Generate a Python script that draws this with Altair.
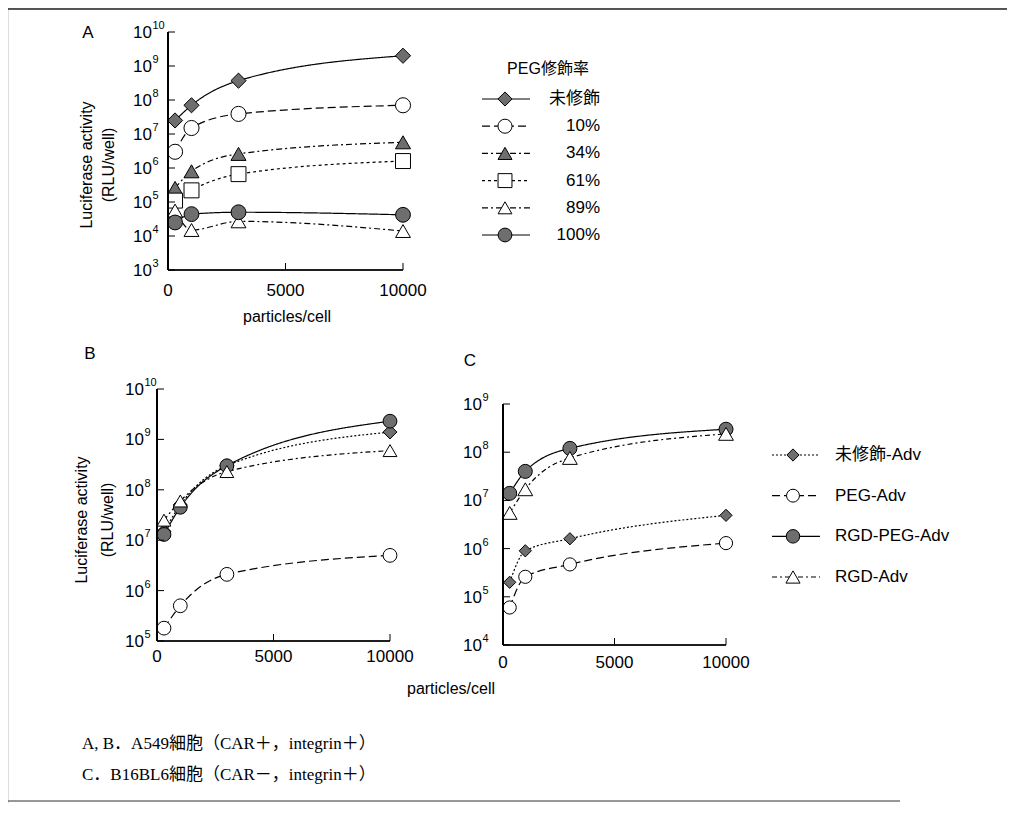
import altair as alt
import pandas as pd

# ---------------- data ----------------
X = [300, 1000, 3000, 10000]
XTICKS = [0, 5000, 10000]

A_SERIES = ["未修飾", "10%", "34%", "61%", "89%", "100%"]
A_UNMOD = [2.5e7, 7.0e7, 3.7e8, 2.0e9]
A_P10 = [3.0e6, 1.5e7, 3.9e7, 7.0e7]
A_P34 = [2.6e5, 8.0e5, 2.6e6, 5.7e6]
A_P61 = [1.1e5, 2.2e5, 6.6e5, 1.6e6]
A_P89 = [5.6e4, 1.5e4, 2.7e4, 1.4e4]
A_P100 = [2.5e4, 4.4e4, 5.0e4, 4.2e4]
A_YTICKS = [1e3, 1e4, 1e5, 1e6, 1e7, 1e8, 1e9, 1e10]

BC_SERIES = ["未修飾-Adv", "PEG-Adv", "RGD-PEG-Adv", "RGD-Adv"]
B_UNMOD = [1.5e7, 5.0e7, 3.0e8, 1.4e9]
B_PEG = [1.8e5, 5.0e5, 2.1e6, 5.0e6]
B_RGDPEG = [1.3e7, 4.5e7, 3.0e8, 2.3e9]
B_RGD = [2.5e7, 6.0e7, 2.3e8, 6.0e8]
B_YTICKS = [1e5, 1e6, 1e7, 1e8, 1e9, 1e10]

C_UNMOD = [2.0e5, 9.0e5, 1.6e6, 4.9e6]
C_PEG = [6.0e4, 2.6e5, 4.7e5, 1.3e6]
C_RGDPEG = [1.4e7, 4.0e7, 1.2e8, 3.0e8]
C_RGD = [5.5e6, 1.7e7, 7.6e7, 2.4e8]
C_YTICKS = [1e4, 1e5, 1e6, 1e7, 1e8, 1e9]

CAPTION_1 = "A, B．A549細胞（CAR＋，integrin＋）"
CAPTION_2 = "C．B16BL6細胞（CAR－，integrin＋）"


def long_df(series, arrays):
    rows = []
    for s, vals in zip(series, arrays):
        for x, v in zip(X, vals):
            rows.append({"s": s, "x": x, "v": v})
    return pd.DataFrame(rows)


dfA = long_df(A_SERIES, [A_UNMOD, A_P10, A_P34, A_P61, A_P89, A_P100])
dfB = long_df(BC_SERIES, [B_UNMOD, B_PEG, B_RGDPEG, B_RGD])
dfC = long_df(BC_SERIES, [C_UNMOD, C_PEG, C_RGDPEG, C_RGD])

# ---------------- styles ----------------
W, H = 999, 795
SANS = "Liberation Sans, Arial, DejaVu Sans, Noto Sans CJK JP"
SERIF = "Liberation Serif, Times New Roman, Noto Sans CJK JP"
GRAY = "#6e6e6e"

A_SHAPES = ["diamond", "circle", "triangle-up", "square", "triangle-up", "circle"]
A_FILLS = [GRAY, "white", GRAY, "white", "white", GRAY]
A_DASH = [[1, 0], [8, 4], [6, 3, 2, 3], [3, 3], [6, 3, 2, 3], [1, 0]]
A_SIZES = [230, 220, 180, 170, 190, 220]

BC_SHAPES = ["diamond", "circle", "circle", "triangle-up"]
BC_FILLS = [GRAY, "white", GRAY, "white"]
BC_DASH = [[2, 2], [8, 4], [1, 0], [5, 3, 2, 3]]
B_SIZES = [190, 190, 200, 180]
C_SIZES = [150, 220, 220, 190]
LEG_C_SIZES = [150, 200, 200, 180]

EXP = "format(round(log(datum.v)/LN10), 'd')"


def panel(df, series, shapes, fills, dashes, sizes, xr, yr, ydom, yticks, ygap, xgap):
    xs = alt.Scale(domain=[0, 10000], range=xr, nice=False, zero=False)
    ys = alt.Scale(type="log", domain=ydom, range=yr, nice=False)
    dash_scale = alt.Scale(domain=series, range=dashes)
    lines = alt.Chart(df).mark_line(color="black", strokeWidth=1.2, interpolate="monotone").encode(
        x=alt.X("x:Q", scale=xs, axis=None),
        y=alt.Y("v:Q", scale=ys, axis=None),
        strokeDash=alt.StrokeDash("s:N", scale=dash_scale, legend=None),
        detail="s:N",
    )
    pts = alt.Chart(df).mark_point(filled=True, stroke="black", strokeWidth=1, opacity=1).encode(
        x=alt.X("x:Q", scale=xs, axis=None),
        y=alt.Y("v:Q", scale=ys, axis=None),
        shape=alt.Shape("s:N", scale=alt.Scale(domain=series, range=shapes), legend=None),
        fill=alt.Fill("s:N", scale=alt.Scale(domain=series, range=fills), legend=None),
        size=alt.Size("s:N", scale=alt.Scale(domain=series, range=sizes), legend=None),
    )
    ydf = pd.DataFrame({"v": yticks})
    xdf = pd.DataFrame({"x": XTICKS})
    # axis lines
    yline = alt.Chart(ydf).mark_rule(color="black", strokeWidth=1.2).encode(
        x=alt.value(xr[0]), y=alt.Y(datum=ydom[0], scale=ys, axis=None), y2=alt.Y2(datum=ydom[1]))
    xline = alt.Chart(xdf).mark_rule(color="black", strokeWidth=1.2).encode(
        y=alt.value(yr[0]), x=alt.X(datum=0, scale=xs, axis=None), x2=alt.X2(datum=10000))
    # inward ticks
    ytk = alt.Chart(ydf).mark_rule(color="black", strokeWidth=1).encode(
        y=alt.Y("v:Q", scale=ys, axis=None),
        x=alt.value(xr[0]), x2=alt.value(xr[0] + 7),
    )
    xtk = alt.Chart(pd.DataFrame({"x": XTICKS[1:]})).mark_rule(color="black", strokeWidth=1).encode(
        x=alt.X("x:Q", scale=xs, axis=None),
        y=alt.value(yr[0]), y2=alt.value(yr[0] - 7),
    )
    # tick labels: base "10" plus a raised exponent
    ybase = alt.Chart(ydf).transform_calculate(lab="'10'").mark_text(
        align="right", baseline="middle", fontSize=17, font=SANS, color="black", dy=1
    ).encode(y=alt.Y("v:Q", scale=ys, axis=None), x=alt.value(xr[0] - ygap), text="lab:N")
    yexp = alt.Chart(ydf).transform_calculate(lab=EXP).mark_text(
        align="left", baseline="middle", fontSize=11, font=SANS, color="black", dy=-6, dx=0.5
    ).encode(y=alt.Y("v:Q", scale=ys, axis=None), x=alt.value(xr[0] - ygap), text="lab:N")
    xlab = alt.Chart(xdf).mark_text(
        align="center", baseline="middle", fontSize=17, font=SANS, color="black"
    ).encode(x=alt.X("x:Q", scale=xs, axis=None), y=alt.value(yr[0] + xgap),
             text=alt.Text("x:Q", format="d"))
    return alt.layer(lines, pts, yline, xline, ytk, xtk, ybase, yexp, xlab)


pA = panel(dfA, A_SERIES, A_SHAPES, A_FILLS, A_DASH, A_SIZES,
           [160, 395], [262, 24], [1e3, 1e10], A_YTICKS, 16, 21)
pB = panel(dfB, BC_SERIES, BC_SHAPES, BC_FILLS, BC_DASH, B_SIZES,
           [149, 382], [633, 381], [1e5, 1e10], B_YTICKS, 13, 16)
pC = panel(dfC, BC_SERIES, BC_SHAPES, BC_FILLS, BC_DASH, C_SIZES,
           [495, 718], [637, 396], [1e4, 1e9], C_YTICKS, 21, 18)


def legend(series, labels, shapes, fills, dashes, sizes, yrange, x0, x1, xs, xt, align):
    d = pd.DataFrame({"s": series, "lab": labels})
    ysc = alt.Scale(type="point", domain=series, range=yrange, padding=0)
    y = alt.Y("s:N", scale=ysc, axis=None)
    ln = alt.Chart(d).mark_rule(color="black", strokeWidth=1.2).encode(
        y=y, x=alt.value(x0), x2=alt.value(x1),
        strokeDash=alt.StrokeDash("s:N", scale=alt.Scale(domain=series, range=dashes), legend=None),
    )
    pt = alt.Chart(d).mark_point(filled=True, stroke="black", strokeWidth=1, opacity=1).encode(
        y=y, x=alt.value(xs),
        shape=alt.Shape("s:N", scale=alt.Scale(domain=series, range=shapes), legend=None),
        fill=alt.Fill("s:N", scale=alt.Scale(domain=series, range=fills), legend=None),
        size=alt.Size("s:N", scale=alt.Scale(domain=series, range=sizes), legend=None),
    )
    tx = alt.Chart(d).mark_text(align=align, baseline="middle", fontSize=17, font=SANS,
                                color="black").encode(y=y, x=alt.value(xt), text="lab:N")
    return alt.layer(ln, pt, tx)


legA = legend(A_SERIES, A_SERIES, A_SHAPES, A_FILLS, A_DASH, [200, 190, 160, 150, 170, 200],
              [91, 227], 474, 522, 497, 592, "right")
legC = legend(BC_SERIES, BC_SERIES, BC_SHAPES, BC_FILLS, BC_DASH, LEG_C_SIZES,
              [447, 569], 764, 812, 785, 827, "left")


def label(txt, x, y, size=17, font=SANS, angle=0, align="center"):
    return alt.Chart(pd.DataFrame({"t": [txt]})).mark_text(
        fontSize=size, font=font, color="black", angle=angle, align=align, baseline="middle"
    ).encode(text="t:N", x=alt.value(x), y=alt.value(y))


texts = [
    label("A", 80, 25),
    label("B", 82, 346),
    label("C", 462, 353),
    label("PEG修飾率", 540, 61, size=16),
    label("Luciferase activity", 79, 157, size=16, angle=270),
    label("(RLU/well)", 101, 157, size=16, angle=270),
    label("Luciferase activity", 74, 512, size=16, angle=270),
    label("(RLU/well)", 100, 512, size=16, angle=270),
    label("particles/cell", 279, 309, size=16),
    label("particles/cell", 443, 681, size=16),
    label(CAPTION_1, 74, 736, size=17, font=SERIF, align="left"),
    label(CAPTION_2, 74, 767, size=17, font=SERIF, align="left"),
]

frame_df = pd.DataFrame({"k": ["top"]})
top_line = alt.Chart(frame_df).mark_rule(color="#222", strokeWidth=1.5).encode(
    x=alt.value(0), x2=alt.value(999), y=alt.value(1))
bottom_line = alt.Chart(frame_df).mark_rule(color="#333", strokeWidth=1.2).encode(
    x=alt.value(0), x2=alt.value(892), y=alt.value(793))

chart = alt.layer(pA, pB, pC, legA, legC, top_line, bottom_line, *texts).resolve_scale(
    x="independent", y="independent", shape="independent", fill="independent",
    strokeDash="independent", size="independent",
).properties(
    width=W, height=H, autosize=alt.AutoSizeParams(type="none"), padding=0,
).configure_view(stroke=None).configure(background="white")

chart.save("out.html", embed_options={"renderer": "svg", "actions": False})
